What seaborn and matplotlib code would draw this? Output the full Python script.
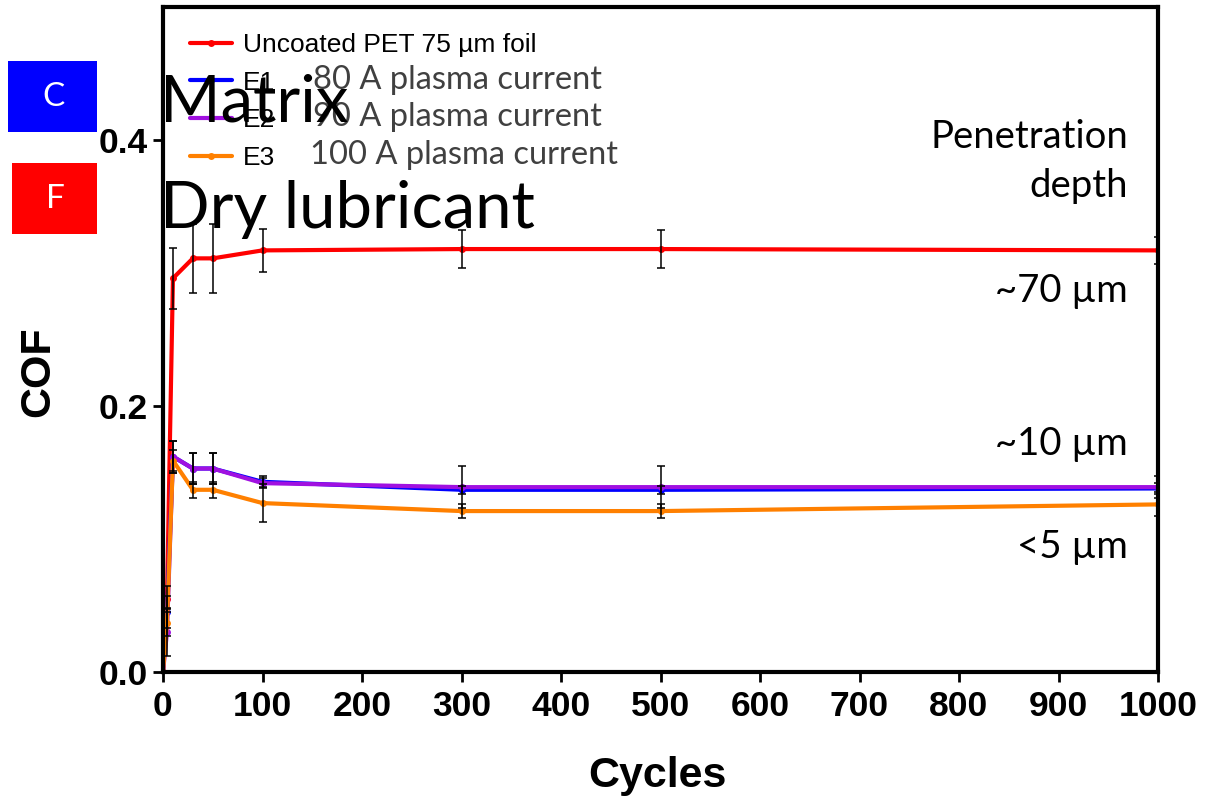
import numpy as np
import pandas as pd
import matplotlib
matplotlib.use('Agg')
import matplotlib.pyplot as plt
import seaborn as sns
from matplotlib.patches import Rectangle

# ---- data ----
cycles = [0, 4, 10, 30, 50, 100, 300, 500, 1000]
series_names = ['Uncoated PET 75 µm foil', 'E1', 'E2', 'E3']

cof_uncoated = [0.0, 0.055, 0.296, 0.311, 0.311, 0.317, 0.318, 0.318, 0.317]
cof_e1 = [0.0, 0.045, 0.162, 0.153, 0.153, 0.143, 0.137, 0.137, 0.138]
cof_e2 = [0.0, 0.030, 0.162, 0.153, 0.153, 0.142, 0.139, 0.139, 0.139]
cof_e3 = [0.0, 0.037, 0.159, 0.137, 0.137, 0.127, 0.121, 0.121, 0.126]

err_uncoated = [0.0, 0.010, 0.023, 0.026, 0.026, 0.016, 0.014, 0.014, 0.010]
err_e1 = [0.0, 0.012, 0.012, 0.012, 0.012, 0.004, 0.003, 0.003, 0.004]
err_e2 = [0.0, 0.018, 0.012, 0.012, 0.012, 0.004, 0.016, 0.016, 0.008]
err_e3 = [0.0, 0.010, 0.008, 0.006, 0.006, 0.014, 0.005, 0.005, 0.009]

plasma_labels = ['80 A plasma current', '90 A plasma current', '100 A plasma current']
depth_labels = ['~70 µm', '~10 µm', '<5 µm']

colors = ['#FF0000', '#0000FF', '#A010E0', '#FF8000']

values = [cof_uncoated, cof_e1, cof_e2, cof_e3]
errors = [err_uncoated, err_e1, err_e2, err_e3]

df = pd.concat([
    pd.DataFrame({'Cycles': cycles, 'COF': v, 'err': e, 'Series': name})
    for name, v, e in zip(series_names, values, errors)
], ignore_index=True)

# ---- style ----
sns.set_style('ticks')
plt.rcParams['font.family'] = ['Liberation Sans', 'DejaVu Sans']
plt.rcParams['text.color'] = 'black'
plt.rcParams['axes.labelcolor'] = 'black'
plt.rcParams['xtick.color'] = 'black'
plt.rcParams['ytick.color'] = 'black'

fig = plt.figure(figsize=(12.06, 7.98), dpi=100)
ax = fig.add_axes([163 / 1206, 1 - 672 / 798, 995 / 1206, 665 / 798])

sns.lineplot(data=df, x='Cycles', y='COF', hue='Series', hue_order=series_names,
             palette=colors, marker='o', markersize=5, markeredgewidth=0,
             linewidth=3, errorbar=None, legend=False, ax=ax)

# error bars (black, thin, small caps)
for name in series_names:
    sub = df[df['Series'] == name]
    ax.errorbar(sub['Cycles'], sub['COF'], yerr=sub['err'], fmt='none',
                ecolor='black', elinewidth=1.1, capsize=3, capthick=1.1, zorder=5)

ax.set_xlim(0, 1000)
ax.set_ylim(0, 0.5)
ax.set_xticks(np.arange(0, 1001, 100))
ax.set_yticks([0.0, 0.2, 0.4])
ax.set_yticklabels(['0.0', '0.2', '0.4'])
ax.tick_params(axis='both', length=7, width=2, labelsize=25.5, pad=4,
               colors='black', labelcolor='black')
ax.tick_params(axis='x', pad=6)
for lab in ax.get_xticklabels() + ax.get_yticklabels():
    lab.set_fontweight('bold')
for sp in ax.spines.values():
    sp.set_linewidth(3)
    sp.set_color('black')

ax.set_xlabel('Cycles', fontsize=31, fontweight='bold', color='black')
ax.set_ylabel('COF', fontsize=31, fontweight='bold', color='black')
ax.xaxis.set_label_coords(0.4965, -0.127)
ax.yaxis.set_label_coords(-0.105, 0.451)

# legend
leg = ax.legend(ax.get_lines()[:4], series_names, loc='upper left',
                bbox_to_anchor=(190 / 1206, 1 - 33 / 798), bbox_transform=fig.transFigure,
                frameon=False, fontsize=19, handlelength=1.6, handletextpad=0.42,
                labelspacing=0.52, borderpad=0, borderaxespad=0)
for t in leg.get_texts():
    t.set_color('black')

# plasma current annotations over the legend
for lab, ypx, xpx in zip(plasma_labels, [80, 117, 155], [313, 313, 310]):
    fig.text(xpx / 1206, 1 - ypx / 798, lab, fontsize=23.5, color='#404040',
             family=['Lato', 'DejaVu Sans'], va='center', ha='left')

# penetration depth annotations
txt_kw = dict(fontsize=27.5, color='black', family=['Lato', 'DejaVu Sans'],
              ha='right', va='baseline')
fig.text(1128 / 1206, 1 - 148 / 798, 'Penetration', **txt_kw)
fig.text(1128 / 1206, 1 - 197 / 798, 'depth', **txt_kw)
for lab, ypx in zip(depth_labels, [302, 455, 558]):
    fig.text(1128 / 1206, 1 - ypx / 798, lab, **txt_kw)

# overlay boxes and big labels
fig.patches.append(Rectangle((8 / 1206, 1 - 132 / 798), 89 / 1206, 71 / 798,
                             transform=fig.transFigure, facecolor='#0000FF', edgecolor='none'))
fig.patches.append(Rectangle((12 / 1206, 1 - 234 / 798), 85 / 1206, 71 / 798,
                             transform=fig.transFigure, facecolor='#FF0000', edgecolor='none'))
fig.text(53 / 1206, 1 - 97 / 798, 'C', fontsize=24, color='white',
         family=['Lato', 'DejaVu Sans'], ha='center', va='center')
fig.text(55 / 1206, 1 - 199 / 798, 'F', fontsize=24, color='white',
         family=['Lato', 'DejaVu Sans'], ha='center', va='center')

big_kw = dict(fontsize=47, color='black', family=['Lato', 'DejaVu Sans'],
              ha='left', va='baseline')
fig.text(160 / 1206, 1 - 122 / 798, 'Matrix', **big_kw)
fig.text(160 / 1206, 1 - 228 / 798, 'Dry lubricant', **big_kw)

fig.savefig('out.png', dpi=100)
